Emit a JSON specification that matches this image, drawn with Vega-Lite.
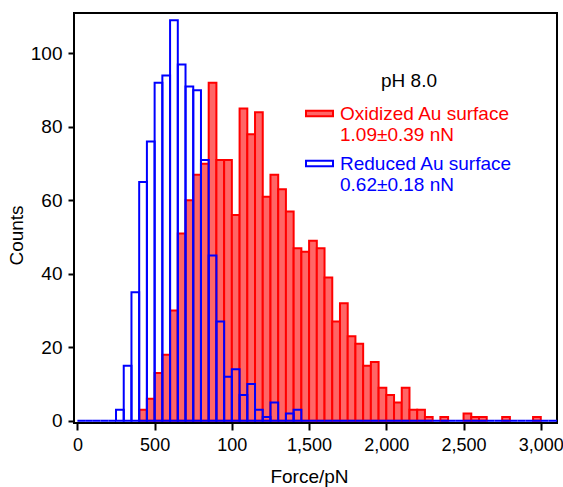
{
  "$schema": "https://vega.github.io/schema/vega-lite/v6.json",
  "autosize": {"type": "none"},
  "padding": {"left": 74, "top": 13, "right": 6, "bottom": 64},
  "width": 483,
  "height": 410,
  "background": "white",
  "config": {
    "font": "Liberation Sans",
    "view": {"stroke": "black", "strokeWidth": 2},
    "axis": {"grid": false, "domain": false, "tickColor": "black", "tickWidth": 2, "labelColor": "black", "labelFontSize": 19, "titleFontSize": 19, "titleFontWeight": "normal", "titleColor": "black", "labelFont": "Liberation Sans", "titleFont": "Liberation Sans"},
    "legend": {
      "orient": "none", "legendX": 231, "legendY": 59, "padding": 0,
      "titleAnchor": "middle", "titleFontSize": 19, "titleFontWeight": "normal", "titleColor": "black", "titleFont": "Liberation Sans", "titlePadding": 8,
      "symbolStrokeWidth": 2, "symbolOpacity": 1,
      "labelFontSize": 19, "labelFont": "Liberation Sans", "labelOffset": 6, "labelLimit": 0,
      "rowPadding": 4
    }
  },
  "data": {"values": [
    {"series":"Reduced","start":0,"end":50,"count":0},
    {"series":"Reduced","start":50,"end":100,"count":0},
    {"series":"Reduced","start":100,"end":150,"count":0},
    {"series":"Reduced","start":150,"end":200,"count":0},
    {"series":"Reduced","start":200,"end":250,"count":0},
    {"series":"Reduced","start":250,"end":300,"count":3},
    {"series":"Reduced","start":300,"end":350,"count":15},
    {"series":"Reduced","start":350,"end":400,"count":35},
    {"series":"Reduced","start":400,"end":450,"count":65},
    {"series":"Reduced","start":450,"end":500,"count":76},
    {"series":"Reduced","start":500,"end":550,"count":92},
    {"series":"Reduced","start":550,"end":600,"count":94},
    {"series":"Reduced","start":600,"end":650,"count":109},
    {"series":"Reduced","start":650,"end":700,"count":97},
    {"series":"Reduced","start":700,"end":750,"count":91},
    {"series":"Reduced","start":750,"end":800,"count":90},
    {"series":"Reduced","start":800,"end":850,"count":71},
    {"series":"Reduced","start":850,"end":900,"count":45},
    {"series":"Reduced","start":900,"end":950,"count":27},
    {"series":"Reduced","start":950,"end":1000,"count":12},
    {"series":"Reduced","start":1000,"end":1050,"count":14},
    {"series":"Reduced","start":1050,"end":1100,"count":7},
    {"series":"Reduced","start":1100,"end":1150,"count":10},
    {"series":"Reduced","start":1150,"end":1200,"count":3},
    {"series":"Reduced","start":1200,"end":1250,"count":1},
    {"series":"Reduced","start":1250,"end":1300,"count":5},
    {"series":"Reduced","start":1300,"end":1350,"count":0},
    {"series":"Reduced","start":1350,"end":1400,"count":2},
    {"series":"Reduced","start":1400,"end":1450,"count":3},
    {"series":"Reduced","start":1450,"end":1500,"count":0},
    {"series":"Reduced","start":1500,"end":1550,"count":0},
    {"series":"Reduced","start":1550,"end":1600,"count":0},
    {"series":"Reduced","start":1600,"end":1650,"count":0},
    {"series":"Reduced","start":1650,"end":1700,"count":0},
    {"series":"Reduced","start":1700,"end":1750,"count":0},
    {"series":"Reduced","start":1750,"end":1800,"count":0},
    {"series":"Reduced","start":1800,"end":1850,"count":0},
    {"series":"Reduced","start":1850,"end":1900,"count":0},
    {"series":"Reduced","start":1900,"end":1950,"count":0},
    {"series":"Reduced","start":1950,"end":2000,"count":0},
    {"series":"Reduced","start":2000,"end":2050,"count":0},
    {"series":"Reduced","start":2050,"end":2100,"count":0},
    {"series":"Reduced","start":2100,"end":2150,"count":0},
    {"series":"Reduced","start":2150,"end":2200,"count":0},
    {"series":"Reduced","start":2200,"end":2250,"count":0},
    {"series":"Reduced","start":2250,"end":2300,"count":0},
    {"series":"Reduced","start":2300,"end":2350,"count":0},
    {"series":"Reduced","start":2350,"end":2400,"count":0},
    {"series":"Reduced","start":2400,"end":2450,"count":0},
    {"series":"Reduced","start":2450,"end":2500,"count":0},
    {"series":"Reduced","start":2500,"end":2550,"count":0},
    {"series":"Reduced","start":2550,"end":2600,"count":0},
    {"series":"Reduced","start":2600,"end":2650,"count":0},
    {"series":"Reduced","start":2650,"end":2700,"count":0},
    {"series":"Reduced","start":2700,"end":2750,"count":0},
    {"series":"Reduced","start":2750,"end":2800,"count":0},
    {"series":"Reduced","start":2800,"end":2850,"count":0},
    {"series":"Reduced","start":2850,"end":2900,"count":0},
    {"series":"Reduced","start":2900,"end":2950,"count":0},
    {"series":"Reduced","start":2950,"end":3000,"count":0},
    {"series":"Reduced","start":3000,"end":3050,"count":0},
    {"series":"Reduced","start":3050,"end":3105,"count":0},
    {"series":"Oxidized","start":400,"end":450,"count":3},
    {"series":"Oxidized","start":450,"end":500,"count":6},
    {"series":"Oxidized","start":500,"end":550,"count":13},
    {"series":"Oxidized","start":550,"end":600,"count":18},
    {"series":"Oxidized","start":600,"end":650,"count":30},
    {"series":"Oxidized","start":650,"end":700,"count":51},
    {"series":"Oxidized","start":700,"end":750,"count":60},
    {"series":"Oxidized","start":750,"end":800,"count":67},
    {"series":"Oxidized","start":800,"end":850,"count":70},
    {"series":"Oxidized","start":850,"end":900,"count":92},
    {"series":"Oxidized","start":900,"end":950,"count":71},
    {"series":"Oxidized","start":950,"end":1000,"count":71},
    {"series":"Oxidized","start":1000,"end":1050,"count":56},
    {"series":"Oxidized","start":1050,"end":1100,"count":85},
    {"series":"Oxidized","start":1100,"end":1150,"count":78},
    {"series":"Oxidized","start":1150,"end":1200,"count":84},
    {"series":"Oxidized","start":1200,"end":1250,"count":61},
    {"series":"Oxidized","start":1250,"end":1300,"count":67},
    {"series":"Oxidized","start":1300,"end":1350,"count":63},
    {"series":"Oxidized","start":1350,"end":1400,"count":57},
    {"series":"Oxidized","start":1400,"end":1450,"count":47},
    {"series":"Oxidized","start":1450,"end":1500,"count":46},
    {"series":"Oxidized","start":1500,"end":1550,"count":49},
    {"series":"Oxidized","start":1550,"end":1600,"count":47},
    {"series":"Oxidized","start":1600,"end":1650,"count":39},
    {"series":"Oxidized","start":1650,"end":1700,"count":27},
    {"series":"Oxidized","start":1700,"end":1750,"count":32},
    {"series":"Oxidized","start":1750,"end":1800,"count":23},
    {"series":"Oxidized","start":1800,"end":1850,"count":21},
    {"series":"Oxidized","start":1850,"end":1900,"count":15},
    {"series":"Oxidized","start":1900,"end":1950,"count":16},
    {"series":"Oxidized","start":1950,"end":2000,"count":9},
    {"series":"Oxidized","start":2000,"end":2050,"count":7},
    {"series":"Oxidized","start":2050,"end":2100,"count":5},
    {"series":"Oxidized","start":2100,"end":2150,"count":9},
    {"series":"Oxidized","start":2150,"end":2200,"count":3},
    {"series":"Oxidized","start":2200,"end":2250,"count":3},
    {"series":"Oxidized","start":2250,"end":2300,"count":1},
    {"series":"Oxidized","start":2350,"end":2400,"count":1},
    {"series":"Oxidized","start":2500,"end":2550,"count":2},
    {"series":"Oxidized","start":2550,"end":2600,"count":1},
    {"series":"Oxidized","start":2600,"end":2650,"count":1},
    {"series":"Oxidized","start":2750,"end":2800,"count":1},
    {"series":"Oxidized","start":2950,"end":3000,"count":1}
  ]},
  "encoding": {
    "x": {"field": "start", "type": "quantitative",
      "scale": {"domain": [-22, 3105], "nice": false, "zero": false},
      "axis": {"values": [0,500,1000,1500,2000,2500,3000], "format": ",d", "labelExpr": "datum.value == 1000 ? '100' : datum.label", "labelFontSize": 18, "tickSize": 7, "labelPadding": 6, "title": "Force/pN", "titleX": 235, "titleY": 59, "titleBaseline": "alphabetic", "titleAnchor": "middle"}},
    "x2": {"field": "end"},
    "y": {"field": "count", "type": "quantitative",
      "scale": {"domain": [-0.6, 111], "nice": false, "zero": false},
      "axis": {"values": [0,20,40,60,80,100], "tickSize": 6, "labelPadding": 6, "title": "Counts", "titleX": -52, "titleY": 222, "titleAnchor": "middle", "titleBaseline": "alphabetic"}},
    "y2": {"datum": 0},
    "stroke": {"field": "series", "type": "nominal",
      "scale": {"domain": ["Oxidized", "Reduced"], "range": ["#ff0000", "#0000ff"]},
      "legend": {
        "title": "pH 8.0",
        "symbolType": "M-1,-0.2H1V0.2H-1Z", "symbolSize": 729,
        "labelColor": {"expr": "datum.value == 'Oxidized' ? '#ff0000' : '#0000ff'"},
        "labelExpr": "datum.value == 'Oxidized' ? ['Oxidized Au surface', '1.09±0.39 nN'] : ['Reduced Au surface', '0.62±0.18 nN']",
        "encode": {"labels": {"lineHeight": {"value": 23}}}
      }},
    "fill": {"field": "series", "type": "nominal",
      "scale": {"domain": ["Oxidized", "Reduced"], "range": ["#ff6666", "transparent"]},
      "legend": {
        "title": "pH 8.0",
        "symbolType": "M-1,-0.2H1V0.2H-1Z", "symbolSize": 729,
        "labelColor": {"expr": "datum.value == 'Oxidized' ? '#ff0000' : '#0000ff'"},
        "labelExpr": "datum.value == 'Oxidized' ? ['Oxidized Au surface', '1.09±0.39 nN'] : ['Reduced Au surface', '0.62±0.18 nN']",
        "encode": {"labels": {"lineHeight": {"value": 23}}}
      }}
  },
  "layer": [
    {"transform": [{"filter": "datum.series == 'Oxidized'"}],
     "mark": {"type": "rect", "strokeWidth": 2, "opacity": 1, "fillOpacity": 1}},
    {"transform": [{"filter": "datum.series == 'Reduced'"}],
     "mark": {"type": "rect", "strokeWidth": 2, "opacity": 1, "fillOpacity": 1}}
  ]
}
